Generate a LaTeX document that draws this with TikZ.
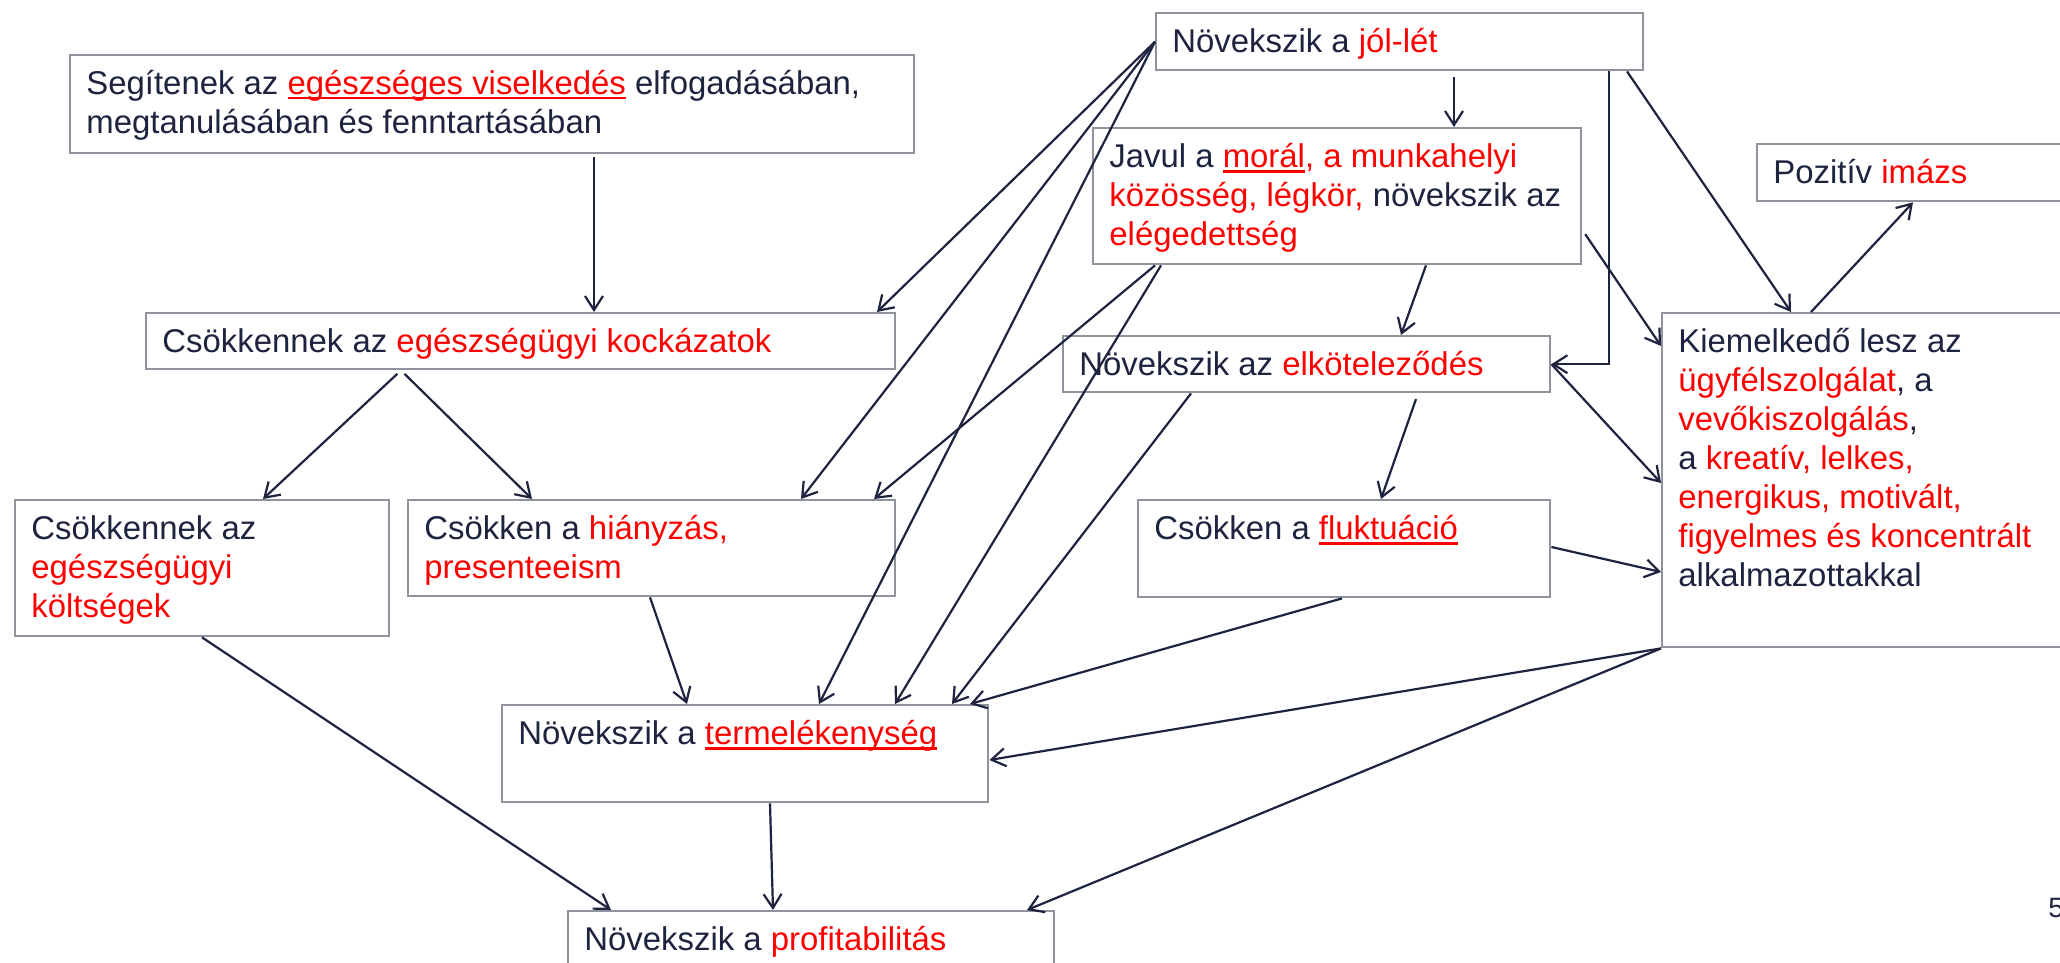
\documentclass[tikz,border=0pt]{standalone}
\usepackage{fontspec}
\setmainfont{Liberation Sans}
\usetikzlibrary{arrows.meta,calc}
\definecolor{ink}{HTML}{1E2340}
\definecolor{frame}{HTML}{8E939C}
\definecolor{hl}{HTML}{FF0000}
\newcommand{\hi}[1]{\textcolor{hl}{#1}}
\newcommand{\hu}[1]{\textcolor{hl}{\setbox0\hbox{#1}\rlap{\rule[-2.4pt]{\wd0}{1.3pt}}\box0}}
\begin{document}
\begin{tikzpicture}[x=0.5pt,y=-0.5pt,
  boxnode/.style={draw=frame, line width=1.2pt, fill=white, rectangle, inner sep=0pt, anchor=north west},
  txt/.style={anchor=north west, inner sep=0pt, align=left, text=ink, font=\fontsize{16.45}{19.5}\selectfont},
  arr/.style={draw=ink, line width=1.1pt, -{Straight Barb[length=7pt,width=9pt,line width=1.1pt]}}]
\useasboundingbox (0,0) rectangle (2060,963);
\clip (0,0) rectangle (2060,963);
\fill[white] (0,0) rectangle (2060,963);
% boxes
\node[boxnode, minimum width=422pt, minimum height=49pt] (A) at (69,54) {};
\node[boxnode, minimum width=374.5pt, minimum height=28pt] (B) at (145,312) {};
\node[boxnode, minimum width=187pt, minimum height=68pt] (C) at (14,499) {};
\node[boxnode, minimum width=243.5pt, minimum height=48pt] (D) at (407,499) {};
\node[boxnode, minimum width=243pt, minimum height=48.5pt] (E) at (501,704) {};
\node[boxnode, minimum width=243pt, minimum height=45pt] (F) at (567,910) {};
\node[boxnode, minimum width=243.5pt, minimum height=28.5pt] (G) at (1155,12) {};
\node[boxnode, minimum width=244pt, minimum height=68pt] (H) at (1092,127) {};
\node[boxnode, minimum width=243.5pt, minimum height=28pt] (I) at (1062,335) {};
\node[boxnode, minimum width=206pt, minimum height=48.5pt] (J) at (1137,499) {};
\node[boxnode, minimum width=159.5pt, minimum height=28.5pt] (K) at (1756,143) {};
\node[boxnode, minimum width=207pt, minimum height=167pt] (L) at (1661,312) {};
% texts
\node[txt] (At) at (86,67) {\strut Segítenek az \hu{egészséges viselkedés} elfogadásában,\\ megtanulásában és fenntartásában};
\node[txt] (Bt) at (162,325) {\strut Csökkennek az \hi{egészségügyi kockázatok}};
\node[txt] (Ct) at (31,512) {\strut Csökkennek az\\ \hi{egészségügyi}\\ \hi{költségek}};
\node[txt] (Dt) at (424,512) {\strut Csökken a \hi{hiányzás,}\\ \hi{presenteeism}};
\node[txt] (Et) at (518,717) {\strut Növekszik a \hu{termelékenység}};
\node[txt] (Ft) at (584,923) {\strut Növekszik a \hi{profitabilitás}};
\node[txt] (Gt) at (1172,25) {\strut Növekszik a \hi{jól-lét}};
\node[txt] (Ht) at (1109,140) {\strut Javul a \hu{morál}\hi{, a munkahelyi}\\ \hi{közösség, légkör,} növekszik az\\ \hi{elégedettség}};
\node[txt] (It) at (1079,348) {\strut Növekszik az \hi{elköteleződés}};
\node[txt] (Jt) at (1154,512) {\strut Csökken a \hu{fluktuáció}};
\node[txt] (Kt) at (1773,156) {\strut Pozitív \hi{imázs}};
\node[txt] (Lt) at (1678,325) {\strut Kiemelkedő lesz az\\ \hi{ügyfélszolgálat}, a\\ \hi{vevőkiszolgálás},\\ a \hi{kreatív, lelkes,}\\ \hi{energikus, motivált,}\\ \hi{figyelmes és koncentrált}\\ alkalmazottakkal};
\node[anchor=west, inner sep=0pt, text=ink, font=\fontsize{14}{16}\selectfont] (pg) at (2048,908) {5};
% connectors
\draw[arr, shorten <=1.5pt] (594,0 |- A.south) -- (594,0 |- B.north);
\draw[arr] (G.west) -- (877,0 |- B.north);
\draw[arr] (G.west) -- (801,0 |- D.north);
\draw[arr] (G.west) -- (819,0 |- E.north);
\draw[arr, shorten <=3pt] (1454,0 |- G.south) -- (1454,0 |- H.north);
\draw[arr] (1609,0 |- G.south) |- (I.east);
\draw[arr] (1627,0 |- G.south) -- (1791,0 |- L.north);
\draw[arr] (1426,0 |- H.south) -- (1401,0 |- I.north);
\draw[arr, shorten <=2.5pt] (H.east |- 0,230) -- (L.west |- 0,346);
\draw[arr] (1155,0 |- H.south) -- (874,0 |- D.north);
\draw[arr] (1161,0 |- H.south) -- (895,0 |- E.north);
\draw[arr] (I.east) -- (L.west |- 0,483);
\draw[arr, shorten <=3pt] (1418,0 |- I.south) -- (1381,0 |- J.north);
\draw[arr] (1191,0 |- I.south) -- (952,0 |- E.north);
\draw[arr] (J.east |- 0,547) -- (L.west |- 0,572);
\draw[arr] (1342,0 |- J.south) -- (970,0 |- E.north);
\draw[arr] (1811,0 |- L.north) -- (1913,0 |- K.south);
\draw[arr] (L.south west) -- (E.east |- 0,760);
\draw[arr] (L.south west) -- (1027,0 |- F.north);
\draw[arr, shorten <=2.5pt] (401,0 |- B.south) -- (263,0 |- C.north);
\draw[arr, shorten <=2.5pt] (401,0 |- B.south) -- (532,0 |- D.north);
\draw[arr] (202,0 |- C.south) -- (611,0 |- F.north);
\draw[arr] (650,0 |- D.south) -- (687,0 |- E.north);
\draw[arr] (770,0 |- E.south) -- (773,0 |- F.north);
\end{tikzpicture}
\end{document}
